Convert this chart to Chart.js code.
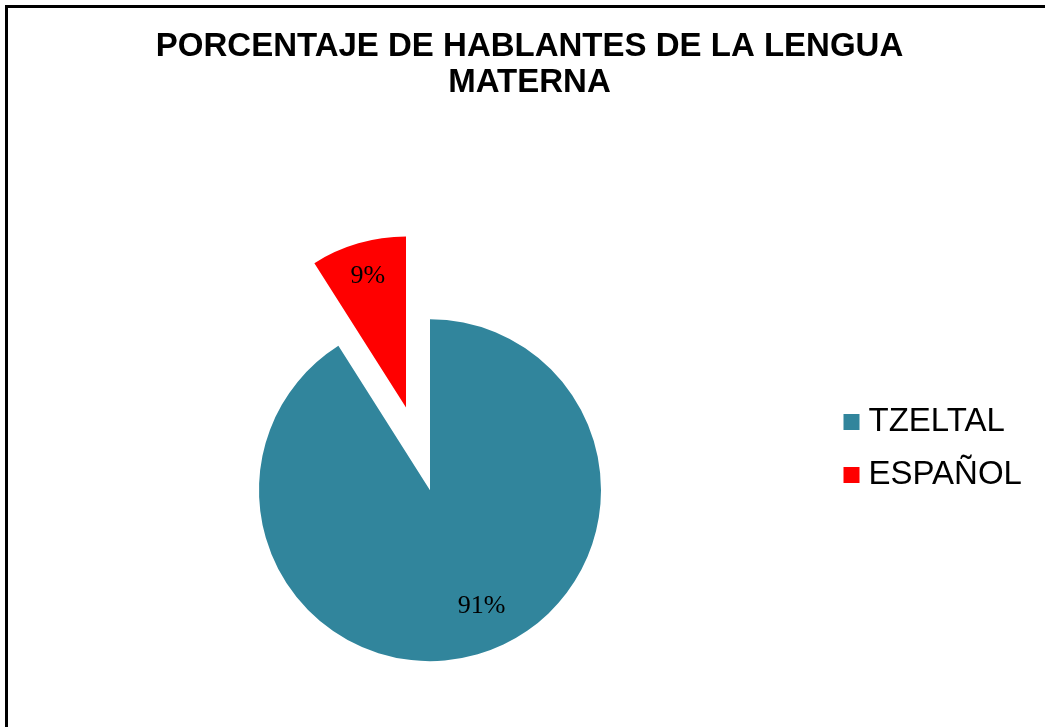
<!DOCTYPE html>
<html>
<head>
<meta charset="utf-8">
<script src="https://cdn.jsdelivr.net/npm/chart.js@4"></script>
<style>
  html, body { margin: 0; padding: 0; background: #fff; overflow: hidden; width: 1045px; height: 727px; }
  #frame { position: absolute; left: 5px; top: 5px; border-top: 3px solid #000; border-left: 3px solid #000; width: 1044px; height: 871px; }
  canvas { display: block; }
</style>
</head>
<body>
<div id="frame"><canvas id="c" width="1044" height="871"></canvas></div>
<script>
// ---- data ----
const categories = ['TZELTAL', 'ESPAÑOL'];
const values = [91, 9];
const titleLines = ['PORCENTAJE DE HABLANTES DE LA LENGUA', 'MATERNA'];

// ---- styles ----
const sliceColors = ['#31859C', '#FF0000'];
const explodeDistance = [0, 86];
const labelPlacement = [ { frac: 0.743, angleShiftDeg: -7.7 }, { frac: 0.8, angleShiftDeg: 0 } ];

const explodePlugin = {
  id: 'explode',
  beforeDatasetDraw(chart, args, opts) {
    const ctx = chart.ctx;
    const dist = opts.distance || [];
    args.meta.data.forEach((arc, i) => {
      if (!chart.getDataVisibility(i)) return;
      const d = dist[i] || 0;
      const mid = (arc.startAngle + arc.endAngle) / 2;
      ctx.save();
      ctx.translate(Math.cos(mid) * d, Math.sin(mid) * d);
      arc.draw(ctx, chart.chartArea);
      ctx.restore();
    });
    return false;
  }
};

const sliceLabelPlugin = {
  id: 'sliceLabels',
  afterDatasetsDraw(chart, args, opts) {
    const meta = chart.getDatasetMeta(0);
    const data = chart.data.datasets[0].data;
    const total = data.reduce((a, b) => a + b, 0);
    const dist = (chart.options.plugins.explode && chart.options.plugins.explode.distance) || [];
    const place = opts.placement || [];
    const ctx = chart.ctx;
    ctx.save();
    ctx.font = opts.font;
    ctx.fillStyle = opts.color;
    ctx.textAlign = 'center';
    ctx.textBaseline = 'middle';
    meta.data.forEach((arc, i) => {
      const mid = (arc.startAngle + arc.endAngle) / 2;
      const d = dist[i] || 0;
      const cx = arc.x + Math.cos(mid) * d;
      const cy = arc.y + Math.sin(mid) * d;
      const p = place[i] || { frac: 0.7, angleShiftDeg: 0 };
      const a = mid + p.angleShiftDeg * Math.PI / 180;
      const r = arc.outerRadius * p.frac;
      const txt = Math.round(data[i] / total * 100) + '%';
      ctx.fillText(txt, cx + Math.cos(a) * r, cy + Math.sin(a) * r);
    });
    ctx.restore();
  }
};

new Chart(document.getElementById('c'), {
  type: 'pie',
  data: {
    labels: categories,
    datasets: [{
      data: values,
      backgroundColor: sliceColors,
      borderWidth: 0,
      hoverOffset: 0,
      radius: 171
    }]
  },
  options: {
    responsive: false,
    animation: false,
    events: [],
    layout: { padding: { left: 21, right: 22, top: 10.4, bottom: 0.4 } },
    plugins: {
      title: {
        display: true,
        text: titleLines,
        color: '#000',
        font: { family: "'Liberation Sans', Arial, sans-serif", size: 33, weight: 'bold', lineHeight: 1.11 },
        padding: { top: 10, bottom: 0 }
      },
      legend: {
        position: 'right',
        maxWidth: 199,
        labels: {
          color: '#000',
          font: { family: "'Liberation Sans', Arial, sans-serif", size: 33 },
          usePointStyle: true,
          pointStyle: 'rect',
          boxWidth: 1,
          boxHeight: 16,
          padding: 20
        }
      },
      tooltip: { enabled: false },
      explode: { distance: explodeDistance },
      sliceLabels: {
        font: "26px 'Liberation Serif', 'Times New Roman', serif",
        color: '#000',
        placement: labelPlacement
      }
    }
  },
  plugins: [explodePlugin, sliceLabelPlugin]
});
</script>
</body>
</html>
